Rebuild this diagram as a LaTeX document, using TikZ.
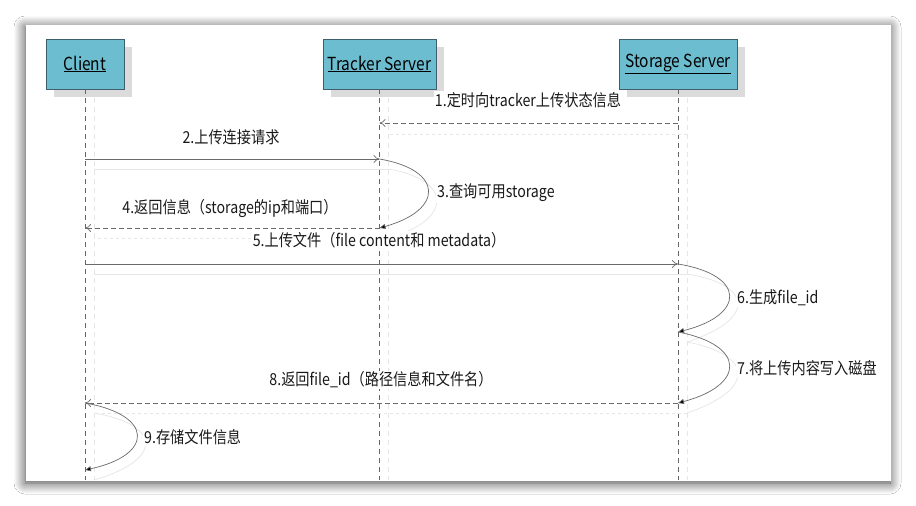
\documentclass[tikz,border=0pt]{standalone}
\usepackage{fontspec}
\setmainfont{Noto Sans CJK SC}[FakeStretch=0.86]
\usetikzlibrary{arrows.meta,shadows.blur,patterns}
\definecolor{boxfill}{HTML}{6DBDD0}
\definecolor{boxline}{HTML}{3E5F6E}
\definecolor{msgline}{HTML}{6A6A6A}
\definecolor{ghost}{HTML}{E6E6E6}
\begin{document}
\begin{tikzpicture}[x=1pt,y=-1pt,
  actor/.style={draw=boxline,line width=0.8pt,fill=boxfill,minimum height=50pt,inner sep=0pt,font=\fontsize{18}{20}\selectfont},
  actorshadow/.style={fill=black!14},
  lifeline/.style={draw=black!60,dashed,dash pattern=on 5pt off 4pt,line width=0.8pt},
  ghostlife/.style={draw=ghost,dashed,dash pattern=on 5pt off 4pt,line width=0.8pt},
  msg/.style={draw=msgline,line width=0.7pt,-{To[length=6pt,width=8pt]}},
  rmsg/.style={msg,dashed,dash pattern=on 5pt off 3pt},
  loopmsg/.style={draw=msgline,line width=0.7pt,-{Triangle[length=6pt,width=5pt,fill=black]}},
  ghostmsg/.style={draw=ghost,line width=0.7pt},
  lbl/.style={font=\fontsize{16.5}{18}\selectfont,inner sep=1pt,fill=white,text=black!90}
]
\useasboundingbox (0,0) rectangle (916,506);
\fill[white] (0,0) rectangle (916,506);
% card
\fill[white,blur shadow={shadow xshift=-1pt,shadow yshift=-2pt,shadow blur radius=11pt,shadow opacity=75,shadow blur steps=12}] (26,25) rectangle (891,481);

% actor shadows
\fill[actorshadow] (54,47) rectangle (132,97);
\fill[actorshadow] (331,47) rectangle (444,97);
\fill[actorshadow] (627,47) rectangle (745,97);

% ghost lifelines
\draw[ghostlife] (94,98) -- (94,480);
\draw[ghostlife] (388,98) -- (388,480);
\draw[ghostlife] (687,98) -- (687,480);

% actors
\node[actor,minimum width=78pt] (client) at (85,64) {\underline{Client}};
\node[actor,minimum width=113pt] (tracker) at (379.5,64) {\underline{Tracker Server}};
\node[actor,minimum width=118pt] (storage) at (678,64) {\underline{Storage Server}};

% lifeline ends
\coordinate (cend) at (85,480);
\coordinate (tend) at (379.5,480);
\coordinate (send) at (678,480);
\draw[lifeline] (client.south) -- (cend);
\draw[lifeline] (tracker.south) -- (tend);
\draw[lifeline] (storage.south) -- (send);

% message points
\coordinate (s1) at (678,123);  \coordinate (t1) at (379.5,123);
\coordinate (c2) at (85,159);   \coordinate (t2) at (379.5,159);
\coordinate (t3) at (379.5,228); \coordinate (c4) at (85,228);
\coordinate (c5) at (85,264);   \coordinate (s5) at (678,264);
\coordinate (s6) at (678,332);
\coordinate (s7) at (678,403);  \coordinate (c8) at (85,403);
\coordinate (c9) at (85,470);

% ghost messages
\draw[ghostmsg,dashed] ([shift={(9,11)}]s1) -- ([shift={(9,11)}]t1);
\draw[ghostmsg] ([shift={(9,10)}]c2) -- ([shift={(9,10)}]t2);
\draw[ghostmsg] ([shift={(9,10)}]t2) .. controls (453,180) and (453,220) .. ([shift={(9,10)}]t3);
\draw[ghostmsg,dashed] ([shift={(9,10)}]t3) -- ([shift={(9,10)}]c4);
\draw[ghostmsg] ([shift={(9,10)}]c5) -- ([shift={(9,10)}]s5);
\draw[ghostmsg] ([shift={(9,10)}]s5) .. controls (755,285) and (755,320) .. ([shift={(9,10)}]s6);
\draw[ghostmsg] ([shift={(9,10)}]s6) .. controls (755,355) and (755,390) .. ([shift={(9,10)}]s7);
\draw[ghostmsg,dashed] ([shift={(9,10)}]s7) -- ([shift={(9,10)}]c8);
\draw[ghostmsg] ([shift={(9,10)}]c8) .. controls (163,425) and (163,460) .. ([shift={(9,10)}]c9);

% messages
\draw[rmsg] (s1) -- (t1);
\draw[msg] (c2) -- (t2);
\draw[loopmsg] (t2) .. controls (444,170) and (444,210) .. (t3);
\draw[rmsg] (t3) -- (c4);
\draw[msg] (c5) -- (s5);
\draw[loopmsg] (s5) .. controls (746,275) and (746,315) .. (s6);
\draw[loopmsg] (s6) .. controls (746,345) and (746,385) .. (s7);
\draw[rmsg] (s7) -- (c8);
\draw[loopmsg] (c8) .. controls (154,415) and (154,455) .. (c9);

% labels
\node[lbl] (l1) at (528,100) {1.定时向tracker上传状态信息};
\node[lbl] (l2) at (231,137) {2.上传连接请求};
\node[lbl,anchor=west] (l3) at (436,193) {3.查询可用storage};
\node[lbl] (l4) at (230,208) {4.返回信息（storage的ip和端口）};
\node[lbl] (l5) at (379,240) {5.上传文件（file content和 metadata）};
\node[lbl,anchor=west] (l6) at (736,298) {6.生成file\_id};
\node[lbl,anchor=west] (l7) at (736,368) {7.将上传内容写入磁盘};
\node[lbl] (l8) at (381,380) {8.返回file\_id（路径信息和文件名）};
\node[lbl,anchor=west] (l9) at (143,437) {9.存储文件信息};
\end{tikzpicture}
\end{document}
